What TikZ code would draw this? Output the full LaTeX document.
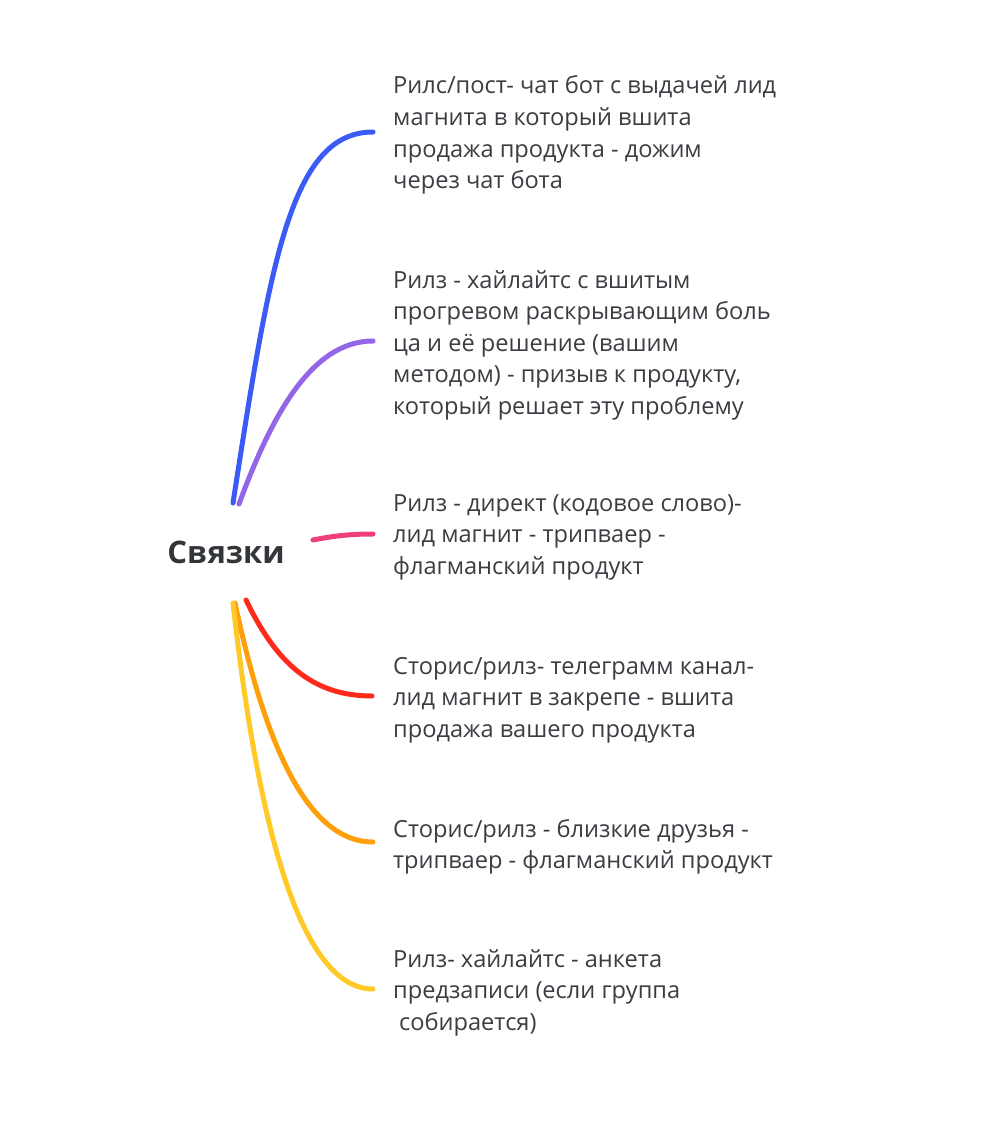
\documentclass[tikz,border=0pt]{standalone}
\usepackage{fontspec}
\setmainfont{Open Sans}
\definecolor{txt}{HTML}{3A3D42}
\definecolor{ttl}{HTML}{32363B}
\definecolor{cblue}{HTML}{3A5BF6}
\definecolor{cpurple}{HTML}{9366E8}
\definecolor{cpink}{HTML}{EE3F7A}
\definecolor{cred}{HTML}{FF2A1A}
\definecolor{corange}{HTML}{FF9F0A}
\definecolor{cyellow}{HTML}{FFC928}
\begin{document}
\begin{tikzpicture}[x=1pt,y=-1pt,
  lbl/.style={anchor=base west, inner sep=0pt, text=txt, font=\fontsize{23.6}{31.6}\selectfont},
  branch/.style={line width=5pt, line cap=round}]
\useasboundingbox (0,0) rectangle (987,1126);
\fill[white] (0,0) rectangle (987,1126);

\node[anchor=base, inner sep=0pt, text=ttl, font=\bfseries\fontsize{31}{36}\selectfont] (root) at (226,563) {Связки};

\node[lbl] (t1) at (393,94) {\parbox[t]{560pt}{\raggedright Рилс/пост- чат бот с выдачей лид\\магнита в который вшита\\продажа продукта - дожим\\через чат бота}};
\node[lbl] (t2) at (393,288) {\parbox[t]{560pt}{\raggedright Рилз - хайлайтс с вшитым\\прогревом раскрывающим боль\\ца и её решение (вашим\\методом) - призыв к продукту,\\который решает эту проблему}};
\node[lbl] (t3) at (393,511) {\parbox[t]{560pt}{\raggedright Рилз - директ (кодовое слово)-\\лид магнит - трипваер -\\флагманский продукт}};
\node[lbl] (t4) at (393,674) {\parbox[t]{560pt}{\raggedright Сторис/рилз- телеграмм канал-\\лид магнит в закрепе - вшита\\продажа вашего продукта}};
\node[lbl] (t5) at (393,837) {\parbox[t]{560pt}{\raggedright Сторис/рилз - близкие друзья -\\трипваер - флагманский продукт}};
\node[lbl] (t6) at (393,967) {\parbox[t]{560pt}{\raggedright Рилз- хайлайтс - анкета\\предзаписи (если группа\\\hspace*{0.25em}собирается)}};

% branch endpoints
\coordinate (s1) at (233,503); \coordinate (e1) at (373,132);
\coordinate (s2) at (239,504); \coordinate (e2) at (373,341);
\coordinate (s3) at (313,540); \coordinate (e3) at (373,534);
\coordinate (s4) at (246,600); \coordinate (e4) at (372,696);
\coordinate (s5) at (235,603); \coordinate (e5) at (373,842);
\coordinate (s6) at (233,603); \coordinate (e6) at (373,989);

\draw[branch, cblue] (s1) .. controls (270,265) and (290,132) .. (e1);
\draw[branch, cpurple] (s2) .. controls (270,420) and (310,341) .. (e2);
\draw[branch, cpink] (s3) .. controls (338,535) and (355,534) .. (e3);
\draw[branch, cred] (s4) .. controls (275,660) and (310,696) .. (e4);
\draw[branch, corange] (s5) .. controls (260,720) and (300,842) .. (e5);
\draw[branch, cyellow] (s6) .. controls (255,800) and (295,989) .. (e6);
\end{tikzpicture}
\end{document}
